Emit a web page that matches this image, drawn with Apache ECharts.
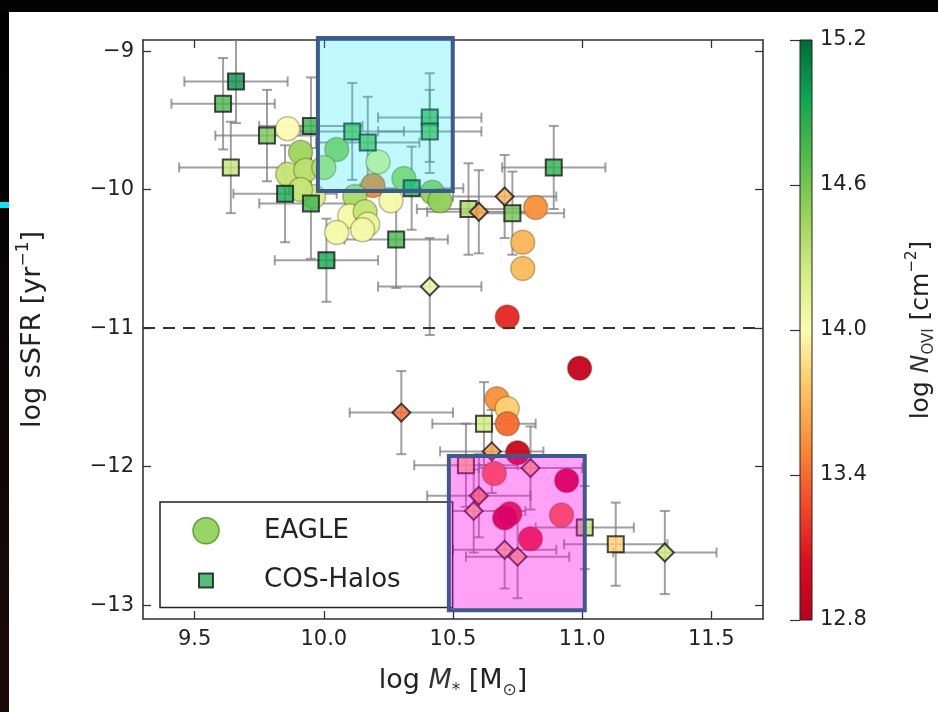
<!DOCTYPE html>
<html><head><meta charset="utf-8">
<script src="https://cdn.jsdelivr.net/npm/echarts@6/dist/echarts.min.js"></script>
<style>html,body{margin:0;padding:0;background:#fff}#c{width:938px;height:712px}</style>
</head><body><div id="c"></div><script>
// ---- axis settings / tick labels ----
const xRange = [9.3, 11.7];
const yRange = [-13.1, -8.92];
const nRange = [12.8, 15.2];
const xTicks = [9.5, 10.0, 10.5, 11.0, 11.5];
const yTicks = [-13, -12, -11, -10, -9];
const cbarTicks = [12.8, 13.4, 14.0, 14.6, 15.2];
const quenchLevel = -11;

// ---- EAGLE galaxies: [log M*, log sSFR, log N_OVI] ----
const eagle = [
  [9.86, -9.56, 14.0], [9.91, -9.73, 14.45], [9.86, -9.89, 14.3], [9.93, -9.86, 14.35],
  [9.96, -10.05, 14.2], [9.91, -10.00, 14.3], [10.05, -9.71, 14.5], [10.00, -9.84, 14.35],
  [10.21, -9.80, 14.15], [10.19, -9.97, 13.5], [10.31, -9.92, 14.45], [10.12, -10.05, 14.4],
  [10.26, -10.08, 14.05], [10.42, -10.02, 14.5], [10.45, -10.08, 14.5], [10.10, -10.19, 14.05],
  [10.16, -10.16, 14.3], [10.17, -10.25, 14.1], [10.05, -10.31, 14.05], [10.15, -10.29, 14.05],
  [10.82, -10.13, 13.55], [10.77, -10.38, 13.7], [10.77, -10.57, 13.72], [10.71, -10.92, 13.15],
  [10.99, -11.29, 12.9], [10.67, -11.51, 13.55], [10.71, -11.58, 13.8], [10.71, -11.69, 13.4],
  [10.75, -11.90, 12.95], [10.66, -12.05, 13.4], [10.94, -12.10, 12.9], [10.72, -12.34, 13.1],
  [10.70, -12.37, 12.9], [10.92, -12.35, 13.4], [10.80, -12.52, 13.15]
];

// ---- COS-Halos detections: [log M*, log sSFR, log N_OVI, err M*, err sSFR] ----
const cosHalos = [
  [9.66, -9.22, 15.05, 0.20, 0.30], [9.61, -9.38, 14.75, 0.20, 0.33], [9.78, -9.61, 14.6, 0.20, 0.33],
  [9.64, -9.84, 14.3, 0.20, 0.33], [9.85, -10.03, 14.95, 0.20, 0.35], [9.95, -10.10, 14.8, 0.20, 0.40],
  [10.01, -10.51, 14.95, 0.20, 0.30], [10.28, -10.36, 14.75, 0.20, 0.35], [9.95, -9.54, 14.8, 0.20, 0.35],
  [10.11, -9.58, 14.7, 0.20, 0.35], [10.17, -9.66, 14.7, 0.20, 0.33], [10.41, -9.48, 14.75, 0.20, 0.32],
  [10.41, -9.58, 14.7, 0.20, 0.30], [10.34, -9.99, 14.9, 0.20, 0.30], [10.89, -9.84, 14.85, 0.20, 0.30],
  [10.56, -10.14, 14.4, 0.20, 0.33], [10.73, -10.17, 14.6, 0.20, 0.30], [11.01, -12.44, 14.3, 0.19, 0.30],
  [11.13, -12.56, 13.8, 0.20, 0.30], [10.62, -11.69, 14.25, 0.20, 0.30], [10.55, -11.99, 13.8, 0.20, 0.30]
];

// ---- COS-Halos limits (diamonds): same layout ----
const cosLimits = [
  [10.41, -10.70, 14.05, 0.20, 0.35], [10.70, -10.05, 13.7, 0.20, 0.30], [10.60, -10.16, 13.65, 0.20, 0.30],
  [10.30, -11.61, 13.4, 0.20, 0.30], [10.65, -11.89, 13.6, 0.20, 0.30], [10.80, -12.01, 13.75, 0.20, 0.30],
  [10.60, -12.21, 13.55, 0.20, 0.30], [10.58, -12.32, 13.8, 0.20, 0.30], [10.70, -12.60, 13.8, 0.20, 0.28],
  [10.75, -12.65, 13.75, 0.20, 0.30], [11.32, -12.62, 14.25, 0.20, 0.30]
];

// ---- highlight boxes (annotation): [x0, x1, y0, y1] in data units ----
const cyanBox = [9.977, 10.499, -10.01, -8.906];
const magentaBox = [10.484, 11.010, -13.036, -11.924];
const boxFills = ['rgba(0,230,240,0.25)', 'rgba(255,0,230,0.37)'];

const cmap = ['#b8001f','#dc0c1e','#f24a2a','#f98b35','#fcc564','#fdfcb2','#d3ec80','#97d259','#4fbb4a','#0fa650','#006a39'];
const FONT = 'DejaVu Sans';

const chart = echarts.init(document.getElementById('c'), null, {renderer: 'canvas'});

function renderErr(params, api) {
  const x = api.value(0), y = api.value(1), xe = api.value(3), ye = api.value(4);
  const l = api.coord([x - xe, y]), r = api.coord([x + xe, y]);
  const t = api.coord([x, y + ye]), b = api.coord([x, y - ye]);
  const c = 5;
  const st = {stroke: 'rgba(120,120,120,0.7)', lineWidth: 2};
  const ln = (x1, y1, x2, y2) => ({type: 'line', shape: {x1, y1, x2, y2}, style: st});
  return {type: 'group', children: [
    ln(l[0], l[1], r[0], r[1]), ln(t[0], t[1], b[0], b[1]),
    ln(l[0], l[1] - c, l[0], l[1] + c), ln(r[0], r[1] - c, r[0], r[1] + c),
    ln(t[0] - c, t[1], t[0] + c, t[1]), ln(b[0] - c, b[1], b[0] + c, b[1])
  ]};
}

function renderBox(params, api) {
  const p0 = api.coord([api.value(0), api.value(2)]);
  const p1 = api.coord([api.value(1), api.value(3)]);
  return {type: 'rect', shape: {x: p0[0], y: p1[1], width: p1[0] - p0[0], height: p0[1] - p1[1]},
    style: {fill: boxFills[params.dataIndex], stroke: '#3d5a8c', lineWidth: 4}};
}

function renderCbar(params, api) {
  const p0 = api.coord([api.value(0), api.value(2)]);
  const p1 = api.coord([api.value(1), api.value(3)]);
  const stops = cmap.map((c, i) => ({offset: i / (cmap.length - 1), color: c}));
  return {type: 'rect', shape: {x: p0[0], y: p1[1], width: p1[0] - p0[0], height: p0[1] - p1[1]},
    style: {fill: new echarts.graphic.LinearGradient(0, 1, 0, 0, stops), stroke: '#222', lineWidth: 1}};
}

const tickLbl = {fontFamily: FONT, fontSize: 21, color: '#222'};
const axisLine = {show: true, lineStyle: {color: '#333', width: 1.6}};
const tick = {show: true, inside: true, length: 8, lineStyle: {color: '#333', width: 1.3}};

const option = {
  backgroundColor: '#fff',
  animation: false,
  graphic: [
    {type: 'rect', shape: {x: 0, y: 0, width: 9, height: 712}, style: {fill: new echarts.graphic.LinearGradient(0, 0, 0, 1, [{offset: 0, color: '#000'}, {offset: 0.35, color: '#080303'}, {offset: 1, color: '#1c0a0a'}])}},
    {type: 'rect', shape: {x: 0, y: 0, width: 938, height: 12}, style: {fill: '#020202'}},
    {type: 'rect', shape: {x: 0, y: 202, width: 9, height: 6}, style: {fill: '#00e8f8'}}
  ],
  grid: [
    {left: 143, right: 175, top: 40, bottom: 93},
    {left: 800, top: 40, width: 30, height: 580}
  ],
  xAxis: [
    {type: 'value', gridIndex: 0, min: xRange[0], max: xRange[1], position: 'bottom',
     axisLine, axisTick: Object.assign({customValues: xTicks}, tick),
     axisLabel: Object.assign({customValues: xTicks, margin: 10, formatter: v => v.toFixed(1)}, tickLbl),
     splitLine: {show: false},
     name: '{a|log }{i|M}{sub|*}{a| [M}{sub|⊙}{a|]}', nameLocation: 'middle', nameGap: 44,
     nameTextStyle: {fontFamily: FONT, color: '#222', rich: {
       a: {fontFamily: FONT, fontSize: 27, color: '#222', lineHeight: 36, verticalAlign: 'middle'},
       i: {fontFamily: FONT, fontSize: 27, fontStyle: 'italic', color: '#333', lineHeight: 36, verticalAlign: 'middle'},
       sub: {fontFamily: FONT, fontSize: 17, color: '#333', lineHeight: 36, verticalAlign: 'bottom'}
     }}},
    {type: 'value', gridIndex: 0, min: xRange[0], max: xRange[1], position: 'top',
     axisLine, axisTick: Object.assign({customValues: xTicks}, tick), axisLabel: {show: false}, splitLine: {show: false}},
    {type: 'value', gridIndex: 1, min: 0, max: 1, show: false}
  ],
  yAxis: [
    {type: 'value', gridIndex: 0, min: yRange[0], max: yRange[1], position: 'left',
     axisLine, axisTick: Object.assign({customValues: yTicks}, tick),
     axisLabel: Object.assign({customValues: yTicks, margin: 9, formatter: v => (v < 0 ? '−' + Math.abs(v) : '' + v)}, tickLbl),
     splitLine: {show: false},
     name: '{a|log sSFR [yr}{s|−1}{a|]}', nameLocation: 'middle', nameGap: 92, nameRotate: 90,
     nameTextStyle: {fontFamily: FONT, color: '#222', rich: {
       a: {fontFamily: FONT, fontSize: 27, color: '#222', lineHeight: 36, verticalAlign: 'middle'},
       s: {fontFamily: FONT, fontSize: 17, color: '#222', lineHeight: 36, verticalAlign: 'top'}
     }}},
    {type: 'value', gridIndex: 0, min: yRange[0], max: yRange[1], position: 'right',
     axisLine, axisTick: Object.assign({customValues: yTicks}, tick), axisLabel: {show: false}, splitLine: {show: false}},
    {type: 'value', gridIndex: 1, min: nRange[0], max: nRange[1], position: 'right',
     axisLine: {show: false},
     axisTick: {show: true, inside: true, length: 10, customValues: cbarTicks, lineStyle: {color: '#333', width: 1.2}},
     axisLabel: Object.assign({customValues: cbarTicks, margin: 8, formatter: v => v.toFixed(1)}, tickLbl),
     splitLine: {show: false},
     name: '{a|log }{i|N}{sub|OVI}{a| [cm}{sup|−2}{a|]}', nameLocation: 'middle', nameGap: 93, nameRotate: 90,
     nameTextStyle: {fontFamily: FONT, color: '#222', rich: {
       a: {fontFamily: FONT, fontSize: 25, color: '#222', lineHeight: 32, verticalAlign: 'middle'},
       i: {fontFamily: FONT, fontSize: 25, fontStyle: 'italic', color: '#333', lineHeight: 32, verticalAlign: 'middle'},
       sub: {fontFamily: FONT, fontSize: 15, color: '#333', lineHeight: 32, verticalAlign: 'bottom'},
       sup: {fontFamily: FONT, fontSize: 15, color: '#222', lineHeight: 32, verticalAlign: 'top'}
     }}}
  ],
  visualMap: {
    type: 'continuous', show: false, min: nRange[0], max: nRange[1], dimension: 2,
    seriesIndex: [2, 3, 4], inRange: {color: cmap}
  },
  legend: {
    left: 160, top: 502, orient: 'vertical', selectedMode: false,
    itemWidth: 26, itemHeight: 26, itemGap: 22, padding: [15, 52, 13, 32],
    borderColor: '#222', borderWidth: 1.5, backgroundColor: '#fff',
    textStyle: {fontFamily: FONT, fontSize: 26, color: '#222', padding: [0, 0, 0, 40]},
    data: [
      {name: 'EAGLE', icon: 'circle', itemStyle: {color: '#94d35c', borderColor: '#5e9a3c', borderWidth: 1.5}},
      {name: 'COS-Halos', icon: 'path://M0,0Z M26,26Z M6,6 h14 v14 h-14 Z', itemStyle: {color: '#2cae58', borderColor: '#111', borderWidth: 2}}
    ]
  },
  series: [
    {name: 'quench', type: 'scatter', data: [], z: 1, silent: true,
     markLine: {silent: true, symbol: ['none', 'none'], label: {show: false},
       lineStyle: {type: [12, 8], color: '#333', width: 2}, data: [{yAxis: quenchLevel}]}},
    {name: 'errors', type: 'custom', renderItem: renderErr, data: cosHalos.concat(cosLimits),
     encode: {x: 0, y: 1}, z: 1, clip: true, silent: true},
    {name: 'EAGLE', type: 'scatter', data: eagle, symbol: 'circle', symbolSize: 24, z: 2,
     itemStyle: {borderColor: 'rgba(70,60,0,0.35)', borderWidth: 1.5, opacity: 0.96}},
    {name: 'COS-Halos', type: 'scatter', data: cosHalos, symbol: 'rect', symbolSize: 16, z: 3,
     itemStyle: {borderColor: '#1a1a1a', borderWidth: 2}},
    {name: 'COS-Halos limits', type: 'scatter', data: cosLimits, symbol: 'diamond', symbolSize: 18, z: 3,
     itemStyle: {borderColor: '#1a1a1a', borderWidth: 2}},
    {name: 'boxes', type: 'custom', renderItem: renderBox, data: [cyanBox, magentaBox],
     encode: {x: [0, 1], y: [2, 3]}, z: 10, clip: false, silent: true},
    {name: 'colorbar', type: 'custom', xAxisIndex: 2, yAxisIndex: 2, renderItem: renderCbar,
     data: [[0, 1, nRange[0], nRange[1]]], encode: {x: [0, 1], y: [2, 3]}, silent: true, z: 2}
  ]
};
chart.setOption(option);
</script></body></html>
